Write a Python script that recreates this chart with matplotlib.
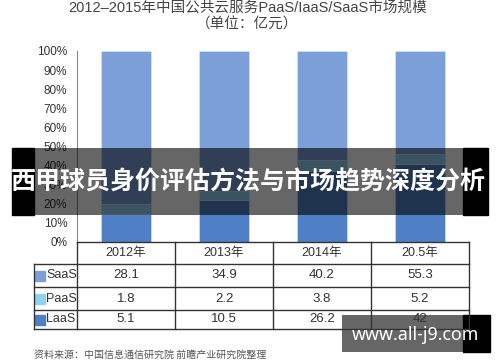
import matplotlib
matplotlib.use('Agg')
import matplotlib.pyplot as plt
from matplotlib.patches import Rectangle
import numpy as np

plt.rcParams['font.family'] = ['Liberation Sans', 'Noto Sans CJK SC']

# data
years = ['2012年', '2013年', '2014年', '20.5年']
saas = [28.1, 34.9, 40.2, 55.3]
paas = [1.8, 2.2, 3.8, 5.2]
laas = [5.1, 10.5, 26.2, 42]
series = ['SaaS', 'PaaS', 'LaaS']
colors = {'SaaS': '#7b9fd8', 'PaaS': '#8fd3f0', 'LaaS': '#4f7fc4'}
values = {'SaaS': saas, 'PaaS': paas, 'LaaS': laas}

W, H = 500, 362
fig = plt.figure(figsize=(5, 3.62), dpi=100)
fig.patch.set_facecolor('white')


def box(x0, y0, x1, y1):
    # pixel box -> figure fraction
    return [x0 / W, 1 - y1 / H, (x1 - x0) / W, (y1 - y0) / H]


# 100% stacked bars
ax = fig.add_axes(box(77, 51, 469, 242))
total = np.array(saas) + np.array(paas) + np.array(laas)
x = np.arange(len(years))
bottom = np.zeros(len(years))
for name in ['LaaS', 'PaaS', 'SaaS']:
    share = np.array(values[name]) / total
    ax.bar(x, share, 0.51, bottom=bottom, color=colors[name],
           edgecolor='#d6ecf8', linewidth=0.4)
    bottom += share
ax.set_xlim(-0.5, 3.5)
ax.set_ylim(0, 1)
ticks = np.linspace(0, 1, 11)
ax.set_yticks(ticks)
ax.set_yticklabels([f'{int(round(t * 100))}%' for t in ticks], fontsize=8.5, color='#333')
ax.tick_params(axis='y', length=0, pad=7)
ax.set_xticks([])
for s in ['top', 'right', 'bottom']:
    ax.spines[s].set_visible(False)
ax.spines['left'].set_color('#888')
ax.set_facecolor('none')

# overlay in pixel coordinates: titles, table, banner
ov = fig.add_axes([0, 0, 1, 1], zorder=10)
ov.set_xlim(0, W)
ov.set_ylim(H, 0)
ov.axis('off')
ov.patch.set_alpha(0)

ov.text(248, 8, '2012–2015年中国公共云服务PaaS/IaaS/SaaS市场规模',
        ha='center', va='center', fontsize=10.5, color='#444')
ov.text(247, 25, '（单位：亿元）', ha='center', va='center', fontsize=10.5, color='#444')

# table
col_x = [77, 175, 273, 371, 469]
row_y = [242, 264, 287, 310, 329]
lc = '#333'
ov.plot([77, 469], [242, 242], color=lc, lw=1)
for yy in row_y[1:]:
    ov.plot([34, 469], [yy, yy], color=lc, lw=1)
for xx in col_x:
    ov.plot([xx, xx], [242, 329], color=lc, lw=1)
ov.plot([34, 34], [264, 329], color=lc, lw=1)

for i, yr in enumerate(years):
    cx = (col_x[i] + col_x[i + 1]) / 2
    ov.text(cx, (row_y[0] + row_y[1]) / 2, yr, ha='center', va='center', fontsize=9, color='#333')
for r, name in enumerate(series):
    cy = (row_y[r + 1] + row_y[r + 2]) / 2
    ov.add_patch(Rectangle((35, cy - 5), 10, 10, color=colors[name]))
    ov.text(46, cy, name, ha='left', va='center', fontsize=9, color='#333')
    for i, v in enumerate(values[name]):
        cx = (col_x[i] + col_x[i + 1]) / 2
        ov.text(cx, cy, f'{v:g}', ha='center', va='center', fontsize=9.5, color='#333')

ov.text(34, 355, '资料来源：中国信息通信研究院 前瞻产业研究院整理',
        ha='left', va='center', fontsize=7.2, color='#555',
        family=['Noto Sans CJK SC', 'DejaVu Sans'])

# banner
ov.add_patch(Rectangle((12, 148), 22, 67, color='black'))
ov.add_patch(Rectangle((463, 148), 25, 67, color='black'))
ov.add_patch(Rectangle((34, 148), 429, 67, color='black', alpha=0.6, lw=0))
ov.text(248, 182, '西甲球员身价评估方法与市场趋势深度分析', ha='center', va='center',
        fontsize=18, color='white', fontweight='bold',
        family=['Noto Sans CJK SC', 'DejaVu Sans'])

# watermark
ov.add_patch(Rectangle((342, 315), 121, 37, color='black', alpha=0.6, lw=0))
ov.add_patch(Rectangle((463, 315), 27, 37, color='black'))
ov.text(415, 335, 'www.all-j9.com', ha='center', va='center', fontsize=12.8,
        color='white', fontweight='bold', family=['Noto Sans', 'DejaVu Sans'])

fig.savefig('out.png', dpi=100)
